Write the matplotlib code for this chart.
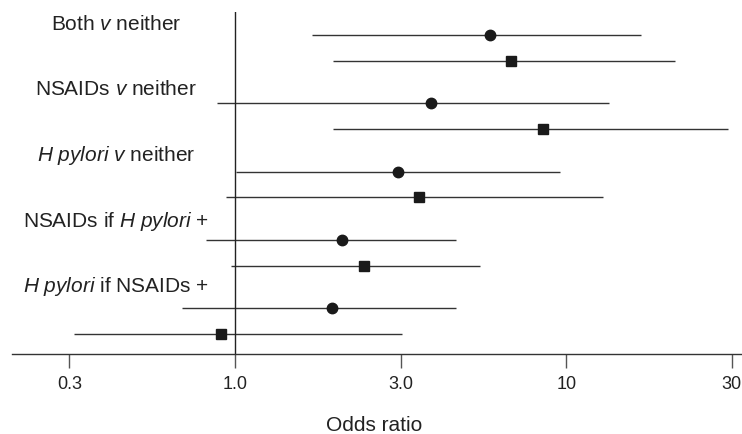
import numpy as np
import matplotlib
matplotlib.use('Agg')
import matplotlib.pyplot as plt

plt.rcParams['font.family'] = ['Liberation Sans', 'DejaVu Sans']
plt.rcParams['mathtext.fontset'] = 'custom'
plt.rcParams['mathtext.rm'] = 'Liberation Sans'
plt.rcParams['mathtext.it'] = 'Liberation Sans:italic'

# --- data (odds ratios) ---
groups = [r'Both $v$ neither',
          r'NSAIDs $v$ neither',
          r'$H\ pylori$ $v$ neither',
          r'NSAIDs if $H\ pylori$ +',
          r'$H\ pylori$ if NSAIDs +']

# circle series
or_circle = [5.9, 3.9, 3.1, 2.1, 1.96]
lo_circle = [1.71, 0.88, 1.01, 0.82, 0.69]
hi_circle = [16.8, 13.5, 9.6, 4.65, 4.65]

# square series
or_square = [6.8, 8.5, 3.6, 2.46, 0.91]
lo_square = [1.98, 1.98, 0.94, 0.97, 0.327]
hi_square = [21.3, 30.9, 12.9, 5.5, 3.19]

tick_vals = [10 ** -0.5, 1.0, 10 ** 0.5, 10.0, 10 ** 1.5]
tick_labels = ['0.3', '1.0', '3.0', '10', '30']

W, H = 742, 435
fig = plt.figure(figsize=(W / 100, H / 100), dpi=100)
ax = fig.add_axes([12 / W, 1 - 355 / H, 1 - 12 / W, (355 - 13) / H])

n = len(groups)
y_circle = 36 + 68.3 * np.arange(n)
y_square = y_circle + 25.7
y_label = 24 + 65.7 * np.arange(n)

col = '#1a1a1a'
ax.hlines(y_circle, lo_circle, hi_circle, color='#333333', lw=1)
ax.hlines(y_square, lo_square, hi_square, color='#333333', lw=1)
ax.plot(or_circle, y_circle, 'o', color=col, ms=7.5, zorder=3)
ax.plot(or_square, y_square, 's', color=col, ms=6.5, zorder=3)
ax.axvline(1.0, color='#222222', lw=1)

ax.set_xscale('log')
ax.set_xlim(10 ** ((12 - 235) / 331.2), 10 ** ((742 - 235) / 331.2))
ax.set_ylim(355, 13)
ax.set_xticks(tick_vals)
ax.set_xticklabels(tick_labels, fontsize=13, color='#222222')
ax.minorticks_off()
ax.tick_params(axis='x', length=10, width=1, color='#555555', pad=5)
ax.set_yticks([])
for s in ['top', 'right', 'left']:
    ax.spines[s].set_visible(False)
ax.spines['bottom'].set_color('#333333')
ax.spines['bottom'].set_linewidth(1)
ax.patch.set_visible(False)

for lab, yl in zip(groups, y_label):
    fig.text(116 / W, 1 - yl / H, lab, ha='center', va='center',
             fontsize=15, color='#222222')

fig.text(374 / W, 1 - 426 / H, 'Odds ratio', ha='center', va='center',
         fontsize=15, color='#222222')

fig.savefig('out.png', dpi=100)
